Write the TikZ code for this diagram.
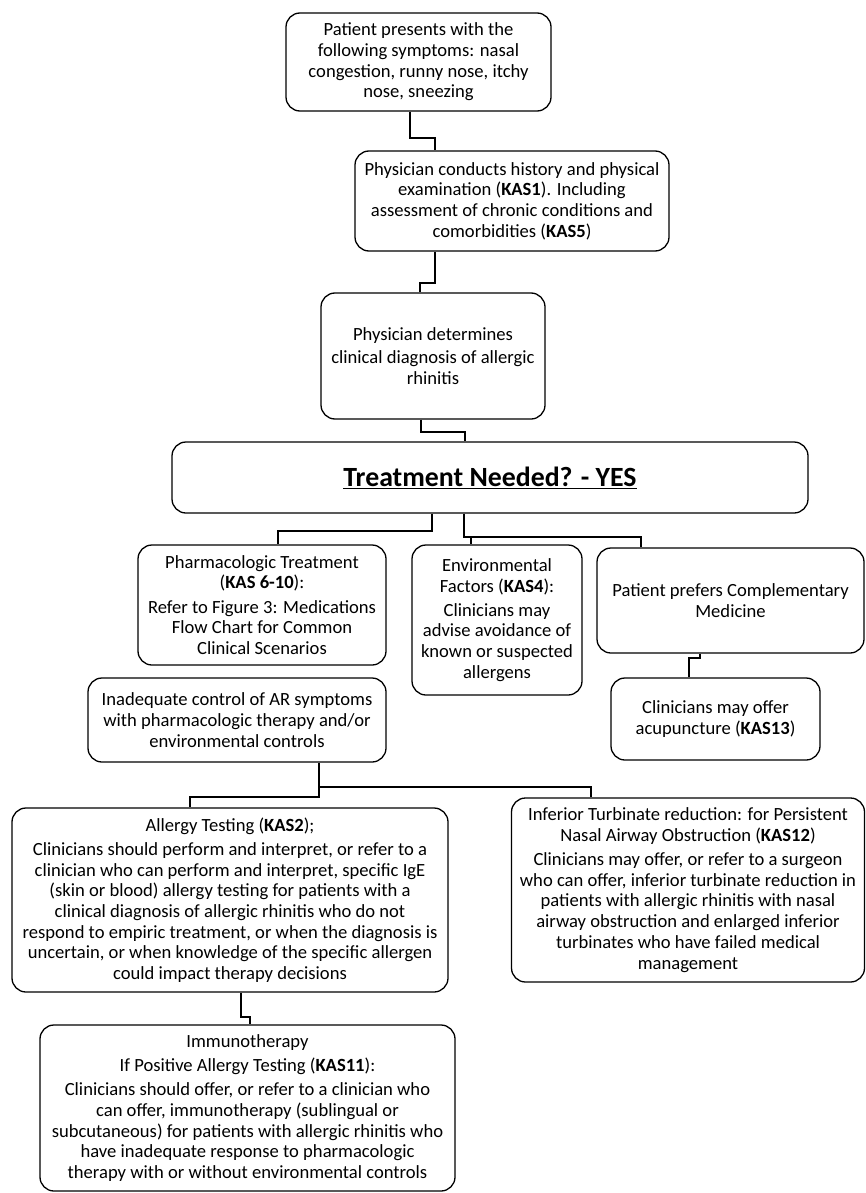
\documentclass[tikz,border=0pt]{standalone}
\usepackage{fontspec}
\setmainfont{Carlito}
\begin{document}
\begin{tikzpicture}[x=1pt,y=-1pt,
  box/.style={draw, line width=1.3pt, rounded corners=14pt, inner sep=0pt, align=center,
    font=\fontsize{18.6}{20.7}\selectfont},
  conn/.style={line width=1.3pt}]
\useasboundingbox (0,0) rectangle (865,1193);
\node[box, minimum width=265pt, minimum height=98pt] (b1) at (418.5,62)
  {Patient presents with the\\following symptoms: nasal\\congestion, runny nose, itchy\\nose, sneezing};
\node[box, minimum width=314pt, minimum height=100pt] (b2) at (512,201)
  {Physician conducts history and physical\\examination (\textbf{KAS1}). Including\\assessment of chronic conditions and\\comorbidities (\textbf{KAS5})};
\node[box, minimum width=224pt, minimum height=126pt] (b3) at (433,356)
  {Physician determines\\[3pt]clinical diagnosis of allergic\\rhinitis};
\node[box, minimum width=636pt, minimum height=71pt, font=\fontsize{27.8}{30}\selectfont\bfseries] (b4) at (490,477.5)
  {\underline{Treatment Needed? - YES}};
\node[box, minimum width=248pt, minimum height=120pt] (pharm) at (262,605)
  {Pharmacologic Treatment\\(\textbf{KAS 6-10}):\\[3.5pt]Refer to Figure 3: Medications\\Flow Chart for Common\\Clinical Scenarios};
\node[box, minimum width=170pt, minimum height=150pt] (env) at (497,620)
  {Environmental\\Factors (\textbf{KAS4}):\\[3.5pt]Clinicians may\\advise avoidance of\\known or suspected\\allergens};
\node[box, minimum width=267pt, minimum height=105pt] (comp) at (730.5,600.5)
  {Patient prefers Complementary\\Medicine};
\node[box, minimum width=209pt, minimum height=82pt] (acup) at (715.5,719)
  {Clinicians may offer\\acupuncture (\textbf{KAS13})};
\node[box, minimum width=298pt, minimum height=84pt] (inad) at (237,720)
  {Inadequate control of AR symptoms\\with pharmacologic therapy and/or\\environmental controls};
\node[box, minimum width=436pt, minimum height=184pt] (allergy) at (230,900)
  {Allergy Testing (\textbf{KAS2});\\[3.5pt]Clinicians should perform and interpret, or refer to a\\clinician who can perform and interpret, specific IgE\\(skin or blood) allergy testing for patients with a\\clinical diagnosis of allergic rhinitis who do not\\respond to empiric treatment, or when the diagnosis is\\uncertain, or when knowledge of the specific allergen\\could impact therapy decisions};
\node[box, minimum width=353pt, minimum height=184pt] (inferior) at (688,890)
  {Inferior Turbinate reduction: for Persistent\\Nasal Airway Obstruction (\textbf{KAS12})\\[3.5pt]Clinicians may offer, or refer to a surgeon\\who can offer, inferior turbinate reduction in\\patients with allergic rhinitis with nasal\\airway obstruction and enlarged inferior\\turbinates who have failed medical\\management};
\node[box, minimum width=415pt, minimum height=166pt] (immuno) at (247.5,1108)
  {Immunotherapy\\[3.5pt]If Positive Allergy Testing (\textbf{KAS11}):\\[3.5pt]Clinicians should offer, or refer to a clinician who\\can offer, immunotherapy (sublingual or\\subcutaneous) for patients with allergic rhinitis who\\have inadequate response to pharmacologic\\therapy with or without environmental controls};
% connectors
\draw[conn] (b1.south -| 410,0) -- (410,138) -| (b2.north -| 435,0);
\draw[conn] (b2.south -| 435,0) -- (435,283) -| (b3.north -| 420,0);
\draw[conn] (b3.south -| 421,0) -- (421,432) -| (b4.north -| 465,0);
\draw[conn] (b4.south -| 432,0) -- (432,531) -| (pharm.north -| 278,0);
\draw[conn] (b4.south -| 464,0) -- (464,537) -| (comp.north -| 641,0);
\draw[conn] (471,537) -- (env.north -| 471,0);
\draw[conn] (comp.south -| 700,0) -- (700,658) -| (acup.north -| 689,0);
\draw[conn] (inad.south -| 319,0) -- (319,797) -| (allergy.north -| 190,0);
\draw[conn] (319,787) -| (inferior.north -| 591,0);
\draw[conn] (allergy.south -| 241,0) -- (241,1017) -| (immuno.north -| 250,0);
\end{tikzpicture}
\end{document}
